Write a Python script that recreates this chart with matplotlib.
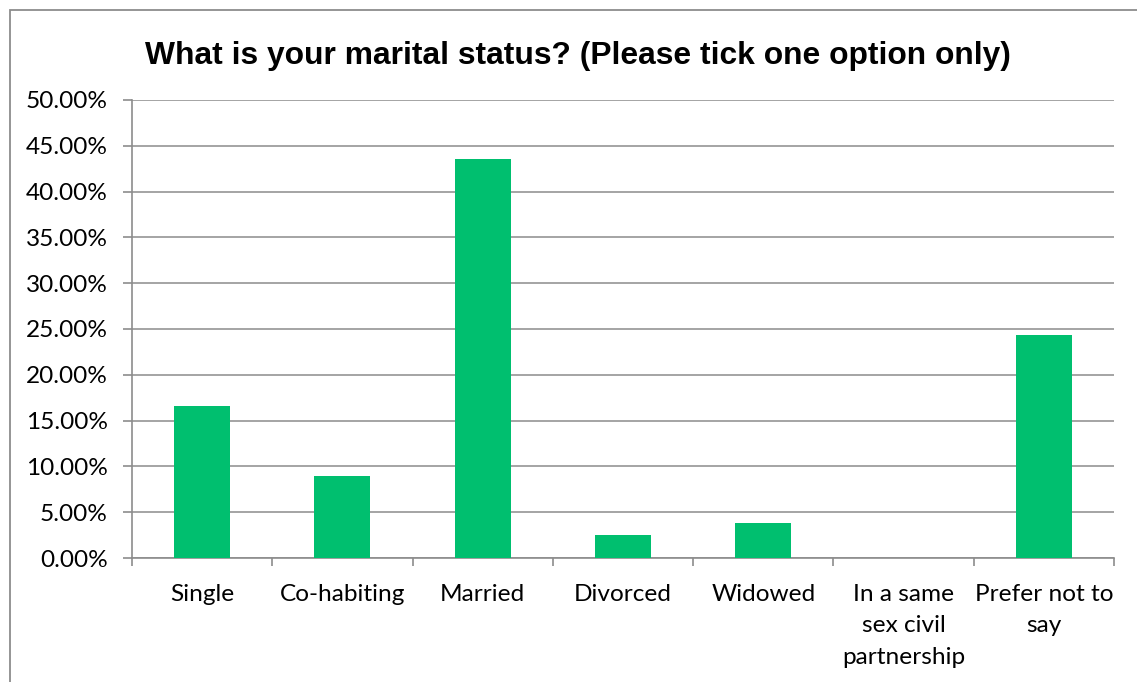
import numpy as np
import matplotlib.pyplot as plt
from matplotlib.patches import Rectangle
from matplotlib.ticker import FuncFormatter

# survey responses, share of respondents (%)
categories = ["Single", "Co-habiting", "Married", "Divorced", "Widowed",
              "In a same\nsex civil\npartnership", "Prefer not to\nsay"]
shares = [16.6, 9.0, 43.6, 2.5, 3.8, 0.0, 24.3]

bar_color = "#00BF6F"
grid_color = "#8C8C8C"

fig = plt.figure(figsize=(11.37, 6.82), dpi=100)
ax = fig.add_axes([0.1161, 0.1818, 0.9798 - 0.1161, 0.8534 - 0.1818])

x = np.arange(len(categories))
ax.bar(x, shares, width=0.4, color=bar_color, zorder=3)

ax.set_xlim(-0.5, len(categories) - 0.5)
ax.set_ylim(0, 50)
ax.set_yticks(np.arange(0, 51, 5))
ax.yaxis.set_major_formatter(FuncFormatter(lambda v, p: f"{v:.2f}%"))
ax.grid(axis="y", color=grid_color, linewidth=1.1, zorder=0)

# category labels between the boundary ticks
ax.set_xticks(x)
ax.set_xticklabels(categories, fontfamily="Lato", fontsize=17.6, linespacing=1.62,
                   va="top")
ax.tick_params(axis="x", length=0, pad=18.5)
ax.set_xticks(np.arange(-0.5, len(categories), 1), minor=True)
ax.tick_params(axis="x", which="minor", length=6, width=1.2, color=grid_color,
               direction="out")
ax.tick_params(axis="y", length=6.5, width=1.2, color=grid_color, pad=11)
for lab in ax.get_yticklabels():
    lab.set_fontfamily("Lato")
    lab.set_fontsize(17.6)

for side in ["top", "right"]:
    ax.spines[side].set_visible(False)
for side in ["left", "bottom"]:
    ax.spines[side].set_color(grid_color)
    ax.spines[side].set_linewidth(1.2)

fig.text(0.508, 0.918, "What is your marital status? (Please tick one option only)",
         ha="center", va="center", fontsize=22.9, fontweight="bold",
         fontfamily="Liberation Sans")

# chart area outline
fig.patches.append(Rectangle((10 / 1137, -0.1), 1.2, 1 - 10 / 682 + 0.1,
                             transform=fig.transFigure, fill=False,
                             edgecolor="#8C8C8C", linewidth=1.3))

fig.savefig("out.png", dpi=100)
